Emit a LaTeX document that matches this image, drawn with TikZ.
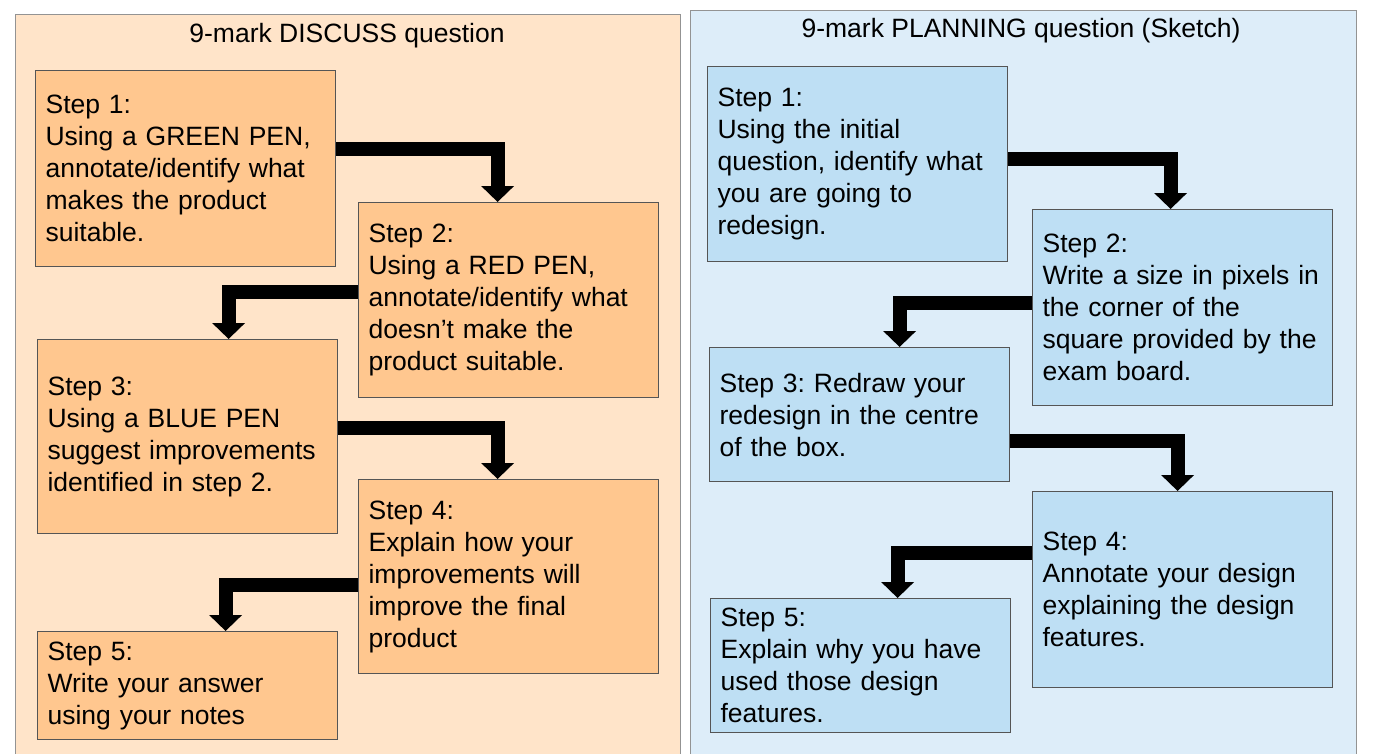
\documentclass[tikz,border=0pt]{standalone}
\usepackage{fontspec}
\setmainfont{Liberation Sans}
\usetikzlibrary{arrows.meta,positioning}
\definecolor{discussbg}{HTML}{FFE4C9}
\definecolor{discussbox}{HTML}{FFC78F}
\definecolor{planbg}{HTML}{DDEDF9}
\definecolor{planbox}{HTML}{BEDFF4}
\definecolor{edgegray}{HTML}{555555}
\frenchspacing

\begin{document}
\begin{tikzpicture}[x=1pt,y=-1pt,
  panel/.style={draw=gray!85,line width=1pt},
  stepbox/.style={draw=edgegray,line width=1.2pt,anchor=north west,inner xsep=10pt,
    inner ysep=0pt,text width=280pt,align=left,font=\fontsize{26.5}{32}\selectfont},
  ttl/.style={font=\fontsize{26.5}{32}\selectfont},
  flow/.style={line width=14pt,line join=miter,-{Triangle[width=32pt,length=16pt]}}]
  \clip (0,0) rectangle (1378,753);
  % panels
  \draw[panel,fill=discussbg] (15,14) rectangle (680,770);
  \draw[panel,fill=planbg] (690,10) rectangle (1356,770);
  \node[ttl] (ttlD) at (347,36) {9-mark DISCUSS question};
  \node[ttl] (ttlP) at (1021,31) {9-mark PLANNING question (Sketch)};
  % discuss steps
  \node[stepbox,fill=discussbox,minimum height=196pt] (d1) at (35,70)
    {Step 1:\\Using a GREEN PEN,\\annotate/identify what\\makes the product\\suitable.};
  \node[stepbox,fill=discussbox,minimum height=195pt] (d2) at (358,202)
    {Step 2:\\Using a RED PEN,\\annotate/identify what\\doesn’t make the\\product suitable.};
  \node[stepbox,fill=discussbox,minimum height=194pt] (d3) at (37,339)
    {Step 3:\\Using a BLUE PEN\\suggest improvements\\identified in step 2.};
  \node[stepbox,fill=discussbox,minimum height=194pt] (d4) at (358,479)
    {Step 4:\\Explain how your\\improvements will\\improve the final\\product};
  \node[stepbox,fill=discussbox,minimum height=108pt] (d5) at (37,631)
    {Step 5:\\Write your answer\\using your notes};
  % planning steps
  \node[stepbox,fill=planbox,minimum height=195pt] (p1) at (707,66)
    {Step 1:\\Using the initial\\question, identify what\\you are going to\\redesign.};
  \node[stepbox,fill=planbox,minimum height=196pt] (p2) at (1032,209)
    {Step 2:\\Write a size in pixels in\\the corner of the\\square provided by the\\exam board.};
  \node[stepbox,fill=planbox,minimum height=134pt] (p3) at (709,347)
    {Step 3: Redraw your\\redesign in the centre\\of the box.};
  \node[stepbox,fill=planbox,minimum height=196pt] (p4) at (1032,491)
    {Step 4:\\Annotate your design\\explaining the design\\features.};
  \node[stepbox,fill=planbox,minimum height=134pt] (p5) at (710,598)
    {Step 5:\\Explain why you have\\used those design\\features.};
  % connectors
  \draw[flow] ([yshift=20pt]d1.east) -| ([xshift=-11pt]d2.north);
  \draw[flow] ([yshift=8pt]d2.west) -| ([xshift=41pt]d3.north);
  \draw[flow] ([yshift=9pt]d3.east) -| ([xshift=-11pt]d4.north);
  \draw[flow] ([yshift=-8pt]d4.west) -| ([xshift=38pt]d5.north);
  \draw[flow] ([yshift=5pt]p1.east) -| ([xshift=-12pt]p2.north);
  \draw[flow] ([yshift=5pt]p2.west) -| ([xshift=40pt]p3.north);
  \draw[flow] ([yshift=-26pt]p3.east) -| ([xshift=-5pt]p4.north);
  \draw[flow] ([yshift=37pt]p4.west) -| ([xshift=37pt]p5.north);
\end{tikzpicture}
\end{document}
